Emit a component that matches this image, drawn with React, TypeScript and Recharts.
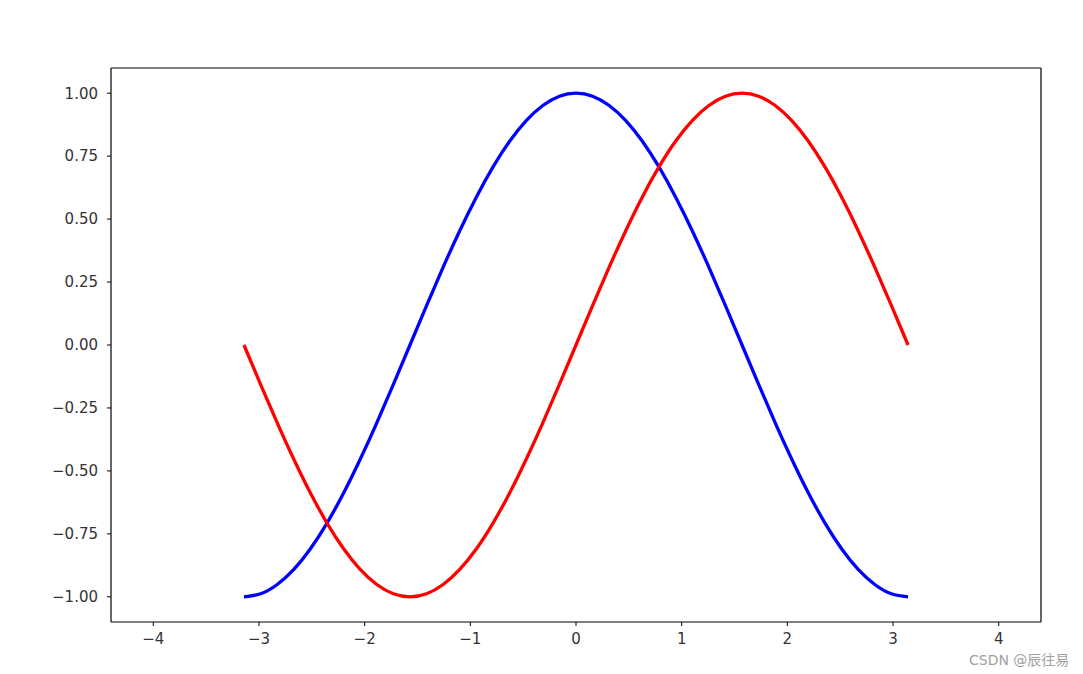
import { LineChart, Line, XAxis, YAxis, ReferenceLine } from "recharts";

// x from -pi to pi in steps of pi/20
const xValues = [
  -3.142, -2.985, -2.827, -2.67, -2.513, -2.356, -2.199, -2.042, -1.885, -1.728, -1.571,
  -1.414, -1.257, -1.1, -0.942, -0.785, -0.628, -0.471, -0.314, -0.157, 0,
  0.157, 0.314, 0.471, 0.628, 0.785, 0.942, 1.1, 1.257, 1.414, 1.571,
  1.728, 1.885, 2.042, 2.199, 2.356, 2.513, 2.67, 2.827, 2.985, 3.142,
];

const cosValues = [
  -1, -0.988, -0.951, -0.891, -0.809, -0.707, -0.588, -0.454, -0.309, -0.156, 0,
  0.156, 0.309, 0.454, 0.588, 0.707, 0.809, 0.891, 0.951, 0.988, 1,
  0.988, 0.951, 0.891, 0.809, 0.707, 0.588, 0.454, 0.309, 0.156, 0,
  -0.156, -0.309, -0.454, -0.588, -0.707, -0.809, -0.891, -0.951, -0.988, -1,
];

const sinValues = [
  0, -0.156, -0.309, -0.454, -0.588, -0.707, -0.809, -0.891, -0.951, -0.988, -1,
  -0.988, -0.951, -0.891, -0.809, -0.707, -0.588, -0.454, -0.309, -0.156, 0,
  0.156, 0.309, 0.454, 0.588, 0.707, 0.809, 0.891, 0.951, 0.988, 1,
  0.988, 0.951, 0.891, 0.809, 0.707, 0.588, 0.454, 0.309, 0.156, 0,
];

const xTicks = [-4, -3, -2, -1, 0, 1, 2, 3, 4];
const yTicks = [-1, -0.75, -0.5, -0.25, 0, 0.25, 0.5, 0.75, 1];

const data = xValues.map((x, i) => ({ x, cos: cosValues[i], sin: sinValues[i] }));

const minus = (s: string) => s.replace("-", "\u2212");
const tickStyle = { fontFamily: "DejaVu Sans", fontSize: 15, fill: "#333" };

export default function App() {
  return (
    <div style={{ position: "absolute", left: 0, top: 0, width: 1083, height: 674, background: "#fff" }}>
      <LineChart width={1083} height={674} data={data} margin={{ top: 68, right: 42, left: 0, bottom: 0 }}>
        <XAxis
          dataKey="x"
          type="number"
          domain={[-4.4, 4.4]}
          ticks={xTicks}
          tickFormatter={(v: number) => minus(String(v))}
          tick={tickStyle}
          tickSize={4}
          tickMargin={7}
          tickLine={{ stroke: "#000" }}
          axisLine={{ stroke: "#000", strokeWidth: 1.2 }}
          height={52}
          allowDataOverflow
        />
        <YAxis
          type="number"
          domain={[-1.1, 1.1]}
          ticks={yTicks}
          tickFormatter={(v: number) => minus(v.toFixed(2))}
          tick={tickStyle}
          tickSize={4}
          tickMargin={9}
          tickLine={{ stroke: "#000" }}
          axisLine={{ stroke: "#000", strokeWidth: 1.2 }}
          width={111}
          allowDataOverflow
        />
        <ReferenceLine y={1.1} stroke="#000" strokeWidth={1.2} />
        <ReferenceLine x={4.4} stroke="#000" strokeWidth={1.2} />
        <Line type="natural" dataKey="cos" stroke="#0000ff" strokeWidth={3.3} dot={false} isAnimationActive={false} />
        <Line type="natural" dataKey="sin" stroke="#ff0000" strokeWidth={3.3} dot={false} isAnimationActive={false} />
      </LineChart>
      <div
        style={{
          position: "absolute",
          left: 969,
          top: 649,
          fontFamily: "DejaVu Sans, Noto Sans CJK SC",
          fontSize: 14,
          color: "#a0a0a0",
          whiteSpace: "nowrap",
        }}
      >
        CSDN @辰往易
      </div>
    </div>
  );
}
